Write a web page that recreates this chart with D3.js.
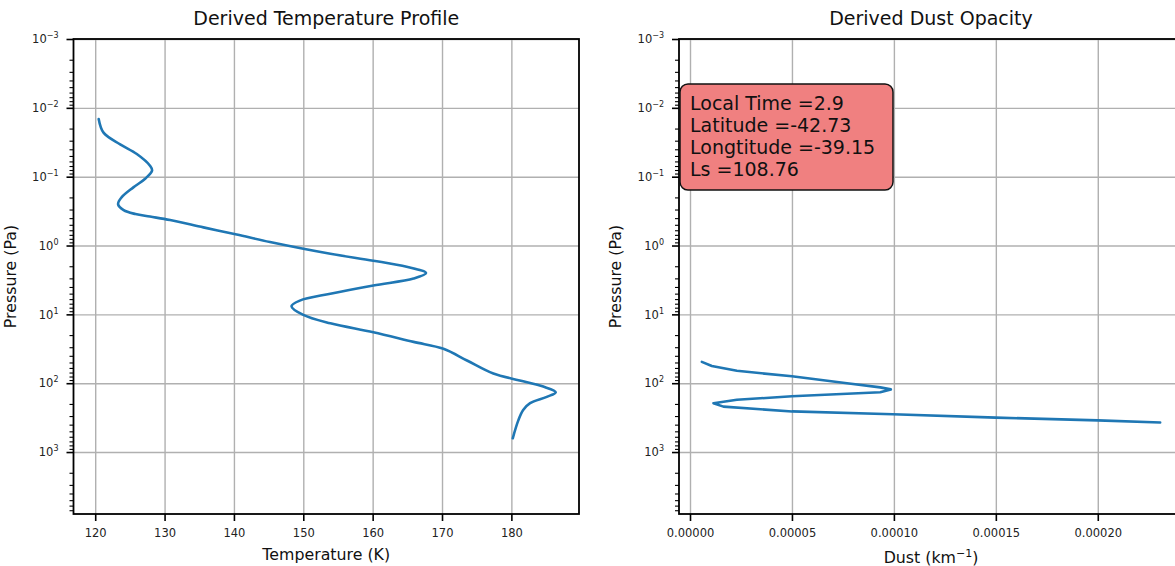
<!DOCTYPE html>
<html>
<head>
<meta charset="utf-8">
<script src="https://cdn.jsdelivr.net/npm/d3@7"></script>
<style>
  body { margin: 0; background: #fff; }
  svg { font-family: "DejaVu Sans", sans-serif; }
</style>
</head>
<body>
<div id="chart"></div>
<script>
// temperature profile
const tempK = [120.5, 121.2, 123.6, 126.0, 127.9, 128.2, 127.2, 125.5, 123.8, 123.3,
               124.1, 125.8, 127.9, 130.8, 135.6, 140.4, 145.2, 153.9, 160.1, 164.9, 167.7,
               165.9, 160.1, 153.9, 149.5, 148.3, 150.0, 153.9, 160.1, 165.9, 170.2,
               173.6, 177.4, 181.2, 184.6, 186.4, 185.1, 182.7, 181.7, 181.0, 180.2];
const tempPa = [0.0145, 0.0229, 0.0339, 0.0468, 0.0692, 0.0813, 0.107, 0.143, 0.200, 0.251,
                0.306, 0.349, 0.380, 0.427, 0.545, 0.692, 0.891, 1.32, 1.66, 2.04, 2.51,
                3.02, 3.80, 5.01, 6.31, 7.59, 10.2, 13.5, 18.2, 25.1, 31.6,
                46.8, 72.4, 91.2, 112, 135, 158, 195, 245, 347, 631];

// dust opacity
const dustKm = [0.0000058, 0.0000107, 0.000023, 0.000050, 0.000077, 0.0000933, 0.0000985,
                0.0000933, 0.000050, 0.000023, 0.0000115, 0.0000164, 0.000050, 0.0000995,
                0.000150, 0.000200, 0.0002306];
const dustPa = [49.0, 56.2, 66.1, 79.4, 100, 115, 123,
                135, 155, 174, 195, 219, 257, 282,
                316, 347, 372];

const tempTicks = [120, 130, 140, 150, 160, 170, 180];
const dustTicks = [0, 0.00005, 0.0001, 0.00015, 0.0002];
const dustTickLabels = ["0.00000", "0.00005", "0.00010", "0.00015", "0.00020"];
const pressureTicks = [1e-3, 1e-2, 1e-1, 1e0, 1e1, 1e2, 1e3];
const pressureExp = ["\u22123", "\u22122", "\u22121", "0", "1", "2", "3"];
const infoLines = ["Local Time =2.9", "Latitude =-42.73", "Longtitude =-39.15", "Ls =108.76"];

const width = 1175, height = 566;
const plotTop = 39, plotBottom = 514;
const grey = "#b0b0b0", blue = "#1f77b4";

const svg = d3.select("#chart").append("svg")
    .attr("width", width)
    .attr("height", height);

function drawPanel(p) {
  const x = d3.scaleLinear().domain(p.xDomain).range([p.left, p.right]);
  const y = d3.scaleLog().domain([1e-3, 7943]).range([plotTop, plotBottom]);
  const g = svg.append("g");

  // grid
  g.append("g")
    .attr("transform", "translate(0," + plotBottom + ")")
    .call(d3.axisBottom(x).tickValues(p.xTicks).tickSize(-(plotBottom - plotTop)).tickFormat(""))
    .call(a => a.select(".domain").remove())
    .selectAll("line").attr("stroke", grey).attr("stroke-width", 1.4);
  g.append("g")
    .attr("transform", "translate(" + p.left + ",0)")
    .call(d3.axisLeft(y).tickValues(pressureTicks).tickSize(-(p.right - p.left)).tickFormat(""))
    .call(a => a.select(".domain").remove())
    .selectAll("line").attr("stroke", grey).attr("stroke-width", 1.4);

  // curve
  const clipId = "clip" + p.left;
  svg.append("clipPath").attr("id", clipId)
    .append("rect")
    .attr("x", p.left).attr("y", plotTop)
    .attr("width", p.right - p.left).attr("height", plotBottom - plotTop);

  const pts = p.xs.map((v, i) => ({v: v, p: p.ps[i]}));
  g.append("path")
    .datum(pts)
    .attr("clip-path", "url(#" + clipId + ")")
    .attr("fill", "none")
    .attr("stroke", blue)
    .attr("stroke-width", 2.6)
    .attr("stroke-linejoin", "round")
    .attr("stroke-linecap", "round")
    .attr("d", d3.line().x(d => x(d.v)).y(d => y(d.p)).curve(p.curve));

  // frame
  g.append("rect")
    .attr("x", p.left).attr("y", plotTop)
    .attr("width", p.right - p.left).attr("height", plotBottom - plotTop)
    .attr("fill", "none").attr("stroke", "#000").attr("stroke-width", 1.8);

  // x axis
  const xa = g.append("g")
    .attr("transform", "translate(0," + plotBottom + ")")
    .call(d3.axisBottom(x).tickValues(p.xTicks).tickSize(7).tickPadding(8).tickFormat(p.xFormat));
  xa.select(".domain").remove();
  xa.selectAll("line").attr("stroke", "#000").attr("stroke-width", 1.6);
  xa.selectAll("text").attr("font-size", "11.5px").attr("fill", "#222")
    .attr("font-family", "DejaVu Sans, sans-serif");

  // y axis: minor ticks then decades
  const minor = y.ticks().filter(v => pressureTicks.indexOf(v) < 0);
  const ym = g.append("g")
    .attr("transform", "translate(" + p.left + ",0)")
    .call(d3.axisLeft(y).tickValues(minor).tickSize(4).tickFormat(""));
  ym.select(".domain").remove();
  ym.selectAll("line").attr("stroke", "#000").attr("stroke-width", 1.1);

  const ya = g.append("g")
    .attr("transform", "translate(" + p.left + ",0)")
    .call(d3.axisLeft(y).tickValues(pressureTicks).tickSize(7).tickPadding(8).tickFormat(""));
  ya.select(".domain").remove();
  ya.selectAll("line").attr("stroke", "#000").attr("stroke-width", 1.6);
  ya.selectAll("text")
    .attr("font-size", "11.5px").attr("fill", "#222")
    .attr("font-family", "DejaVu Sans, sans-serif")
    .each(function(d, i) {
      const t = d3.select(this);
      t.append("tspan").text("10");
      t.append("tspan").attr("dy", "-5").attr("font-size", "8px").text(pressureExp[i]);
    });

  // labels
  const cx = (p.left + p.right) / 2;
  svg.append("text")
    .attr("x", cx).attr("y", 25)
    .attr("text-anchor", "middle")
    .attr("font-size", "19px")
    .attr("fill", "#111")
    .text(p.title);

  const xl = svg.append("text")
    .attr("x", cx).attr("y", p.xLabelY)
    .attr("text-anchor", "middle")
    .attr("font-size", "15.8px")
    .attr("fill", "#111");
  p.xLabel(xl);

  svg.append("text")
    .attr("transform", "translate(" + (p.left - 58) + "," + ((plotTop + plotBottom) / 2) + ") rotate(-90)")
    .attr("text-anchor", "middle")
    .attr("font-size", "15.8px")
    .attr("fill", "#111")
    .text("Pressure (Pa)");

  return g;
}

drawPanel({
  left: 73.5, right: 579,
  xDomain: [116.87, 189.75],
  xTicks: tempTicks,
  xFormat: d => d,
  xs: tempK, ps: tempPa,
  curve: d3.curveCatmullRom.alpha(0.5),
  title: "Derived Temperature Profile",
  xLabelY: 560,
  xLabel: t => t.text("Temperature (K)")
});

const right = drawPanel({
  left: 679, right: 1183,
  xDomain: [-0.0000054, 0.0002418],
  xTicks: dustTicks,
  xFormat: (d, i) => dustTickLabels[i],
  xs: dustKm, ps: dustPa,
  curve: d3.curveLinear,
  title: "Derived Dust Opacity",
  xLabelY: 563,
  xLabel: t => {
    t.append("tspan").text("Dust (km");
    t.append("tspan").attr("dy", "-6").attr("font-size", "11px").text("\u22121");
    t.append("tspan").attr("dy", "6").text(")");
  }
});

// info box
const box = right.append("g").attr("transform", "translate(680,84)");
box.append("rect")
  .attr("width", 213).attr("height", 106)
  .attr("rx", 8).attr("ry", 8)
  .attr("fill", "#f08080")
  .attr("stroke", "#111")
  .attr("stroke-width", 1.5);
box.selectAll("text.info")
  .data(infoLines)
  .enter().append("text")
  .attr("class", "info")
  .attr("x", 10)
  .attr("y", (d, i) => 26 + i * 22)
  .attr("font-size", "19px")
  .attr("fill", "#111")
  .text(d => d);
</script>
</body>
</html>
